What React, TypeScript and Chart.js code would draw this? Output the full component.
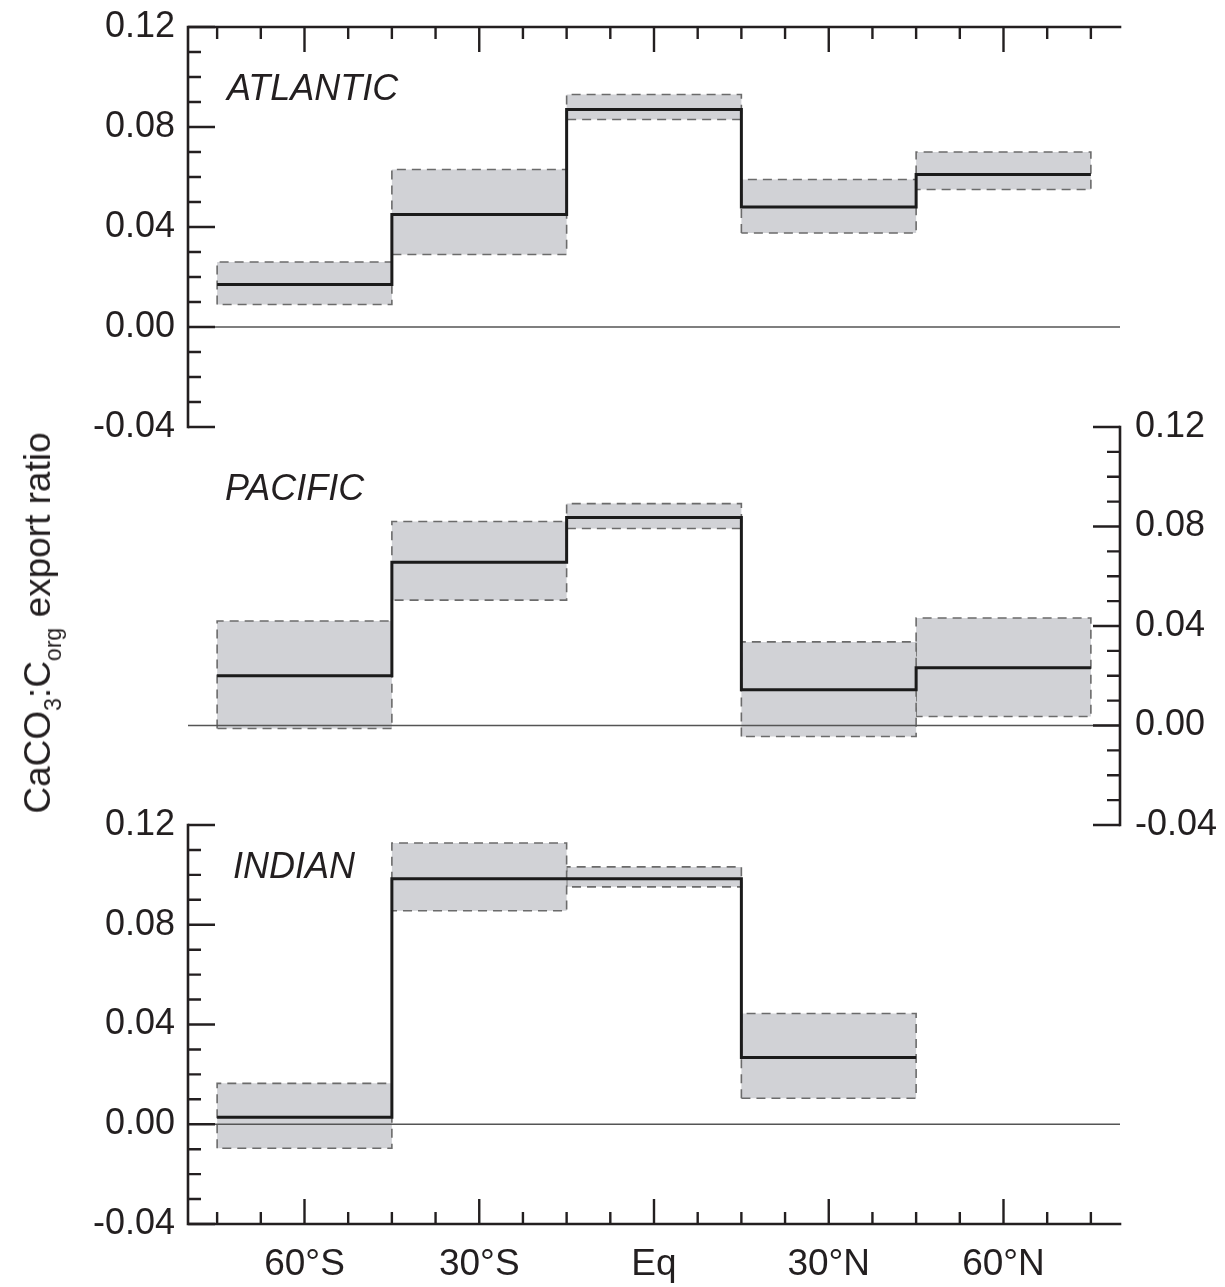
import React, { useEffect, useRef } from 'react';
import { Chart, registerables } from 'chart.js';

Chart.register(...registerables);

// ---------- data ----------
const BIN_EDGES = [-75, -45, -15, 15, 45, 75];
const X_TICK_VALUES = [-60, -30, 0, 30, 60];
const X_TICK_LABELS = ['60°S', '30°S', 'Eq', '30°N', '60°N'];
const Y_TICK_VALUES = [-0.04, 0, 0.04, 0.08, 0.12];
const X_MINOR_STEP = 7.5;
const X_MAJOR_STEP = 30;
const Y_MINOR_STEP = 0.01;
const Y_MAJOR_STEP = 0.04;
const X_MIN = -80;
const X_MAX = 80;
const Y_MIN = -0.04;
const Y_MAX = 0.12;

const PANEL_NAMES = ['ATLANTIC', 'PACIFIC', 'INDIAN'];

const ATL_MEAN = [0.017, 0.045, 0.087, 0.048, 0.061];
const ATL_LOW = [0.009, 0.029, 0.083, 0.0376, 0.055];
const ATL_HIGH = [0.026, 0.063, 0.093, 0.059, 0.07];

const PAC_MEAN = [0.02, 0.0656, 0.0836, 0.0144, 0.0232];
const PAC_LOW = [-0.0012, 0.0504, 0.0792, -0.0044, 0.0036];
const PAC_HIGH = [0.042, 0.082, 0.0892, 0.0336, 0.0432];

const IND_MEAN = [0.0028, 0.0984, 0.0984, 0.0268];
const IND_LOW = [-0.0096, 0.0856, 0.0952, 0.0104];
const IND_HIGH = [0.0164, 0.1128, 0.1032, 0.0444];

// ---------- style / layout ----------
const W = 1225;
const H = 1287;
const PLOT_LEFT = 188;
const PLOT_RIGHT = 1120;
const INK = '#231f20';
const FONT = '"Liberation Sans", Arial, Helvetica, sans-serif';
const BOX_FILL = '#d1d2d6';
const BOX_EDGE = '#6b6b6b';

type Panel = {
  name: string;
  mean: number[];
  low: number[];
  high: number[];
  top: number;
  bottom: number;
  yPos: 'left' | 'right';
  sides: string[];
  showX: boolean;
  labelDx: number;
  labelDy: number;
};

const PANELS: Panel[] = [
  { name: PANEL_NAMES[0], mean: ATL_MEAN, low: ATL_LOW, high: ATL_HIGH, top: 27, bottom: 427, yPos: 'left', sides: ['left', 'top'], showX: false, labelDx: 39, labelDy: 73 },
  { name: PANEL_NAMES[1], mean: PAC_MEAN, low: PAC_LOW, high: PAC_HIGH, top: 427, bottom: 825, yPos: 'right', sides: ['right'], showX: false, labelDx: 37, labelDy: 73 },
  { name: PANEL_NAMES[2], mean: IND_MEAN, low: IND_LOW, high: IND_HIGH, top: 825, bottom: 1224, yPos: 'left', sides: ['left', 'bottom'], showX: true, labelDx: 45, labelDy: 53 },
];

const isMultiple = (v: number, step: number) => Math.abs(v / step - Math.round(v / step)) < 1e-6;

const frameAxesPlugin = {
  id: 'frameAxes',
  afterDraw(chart: any, _args: any, opts: any) {
    const { ctx, chartArea: a, scales } = chart;
    const xs = scales.x;
    const ys = scales.y;
    const sides: string[] = opts.sides || [];
    ctx.save();
    ctx.strokeStyle = INK;
    ctx.lineWidth = 2.6;
    ctx.lineCap = 'square';
    ctx.beginPath();
    if (sides.includes('left')) { ctx.moveTo(a.left, a.top); ctx.lineTo(a.left, a.bottom); }
    if (sides.includes('right')) { ctx.moveTo(a.right, a.top); ctx.lineTo(a.right, a.bottom); }
    if (sides.includes('top')) { ctx.moveTo(a.left, a.top); ctx.lineTo(a.right, a.top); }
    if (sides.includes('bottom')) { ctx.moveTo(a.left, a.bottom); ctx.lineTo(a.right, a.bottom); }
    ctx.stroke();

    ctx.lineCap = 'butt';
    ctx.lineWidth = 2.4;
    ctx.beginPath();
    // y ticks
    const yStart = Math.ceil(ys.min / Y_MINOR_STEP - 1e-6);
    const yEnd = Math.floor(ys.max / Y_MINOR_STEP + 1e-6);
    for (let k = yStart; k <= yEnd; k++) {
      const v = k * Y_MINOR_STEP;
      const py = ys.getPixelForValue(v);
      const len = isMultiple(v, Y_MAJOR_STEP) ? 27 : 13;
      if (sides.includes('left')) { ctx.moveTo(a.left, py); ctx.lineTo(a.left + len, py); }
      if (sides.includes('right')) { ctx.moveTo(a.right, py); ctx.lineTo(a.right - len, py); }
    }
    // x ticks
    const xStart = Math.ceil(xs.min / X_MINOR_STEP - 1e-6);
    const xEnd = Math.floor(xs.max / X_MINOR_STEP + 1e-6);
    for (let k = xStart; k <= xEnd; k++) {
      const v = k * X_MINOR_STEP;
      const px = xs.getPixelForValue(v);
      const len = isMultiple(v, X_MAJOR_STEP) ? 25 : 12;
      if (sides.includes('top')) { ctx.moveTo(px, a.top); ctx.lineTo(px, a.top + len); }
      if (sides.includes('bottom')) { ctx.moveTo(px, a.bottom); ctx.lineTo(px, a.bottom - len); }
    }
    ctx.stroke();

    // panel name
    ctx.fillStyle = INK;
    ctx.font = `italic 36px ${FONT}`;
    ctx.textBaseline = 'alphabetic';
    ctx.textAlign = 'left';
    ctx.fillText(opts.name, a.left + opts.labelDx, a.top + opts.labelDy);
    ctx.restore();
  },
};

function buildDatasets(p: Panel) {
  const n = p.mean.length;
  const boxes = p.mean.map((_, i) => {
    const x0 = BIN_EDGES[i];
    const x1 = BIN_EDGES[i + 1];
    return {
      type: 'line',
      data: [
        { x: x0, y: p.low[i] },
        { x: x0, y: p.high[i] },
        { x: x1, y: p.high[i] },
        { x: x1, y: p.low[i] },
        { x: x0, y: p.low[i] },
      ],
      fill: 'shape',
      backgroundColor: BOX_FILL,
      borderColor: BOX_EDGE,
      borderWidth: 1.6,
      borderDash: [9, 6],
      pointRadius: 0,
      tension: 0,
      order: 2,
    };
  });
  const meanPts = BIN_EDGES.slice(0, n + 1).map((e, i) => ({ x: e, y: p.mean[Math.min(i, n - 1)] }));
  const mean = {
    type: 'line',
    data: meanPts,
    stepped: true,
    borderColor: '#1b1b1b',
    borderWidth: 3,
    pointRadius: 0,
    fill: false,
    order: 0,
  };
  const zero = {
    type: 'line',
    data: [{ x: X_MIN, y: 0 }, { x: X_MAX, y: 0 }],
    borderColor: '#555555',
    borderWidth: 1.3,
    pointRadius: 0,
    fill: false,
    order: 1,
  };
  return [mean, zero, ...boxes];
}

function PanelChart({ p }: { p: Panel }) {
  const ref = useRef<HTMLCanvasElement | null>(null);
  useEffect(() => {
    if (!ref.current) return;
    const yW = p.yPos === 'left' ? PLOT_LEFT : W - PLOT_RIGHT;
    const xH = p.showX ? 63 : 0;
    const padding = {
      left: p.yPos === 'left' ? 0 : PLOT_LEFT,
      right: p.yPos === 'right' ? 0 : W - PLOT_RIGHT,
      top: p.top,
      bottom: H - p.bottom - xH,
    };
    const chart = new Chart(ref.current, {
      type: 'line',
      data: { datasets: buildDatasets(p) as any },
      options: {
        responsive: false,
        animation: false,
        events: [],
        layout: { padding, autoPadding: false },
        plugins: {
          legend: { display: false },
          tooltip: { enabled: false },
          frameAxes: { sides: p.sides, name: p.name, labelDx: p.labelDx, labelDy: p.labelDy },
        } as any,
        scales: {
          x: {
            type: 'linear',
            min: X_MIN,
            max: X_MAX,
            position: 'bottom',
            display: p.showX,
            grid: { display: false, drawTicks: false },
            border: { display: false },
            afterBuildTicks: (s: any) => { s.ticks = X_TICK_VALUES.map((v) => ({ value: v })); },
            afterFit: (s: any) => {
              s.height = xH;
              s.paddingLeft = 0; s.paddingRight = 0; s.paddingTop = 0; s.paddingBottom = 0;
            },
            ticks: {
              autoSkip: false,
              maxRotation: 0,
              padding: 19,
              color: INK,
              font: { family: FONT, size: 37 },
              callback: (v: any) => {
                const i = X_TICK_VALUES.indexOf(Number(v));
                return i >= 0 ? X_TICK_LABELS[i] : '';
              },
            },
          },
          y: {
            type: 'linear',
            min: Y_MIN,
            max: Y_MAX,
            position: p.yPos,
            grid: { display: false, drawTicks: false },
            border: { display: false },
            afterBuildTicks: (s: any) => { s.ticks = Y_TICK_VALUES.map((v) => ({ value: v })); },
            afterFit: (s: any) => {
              s.width = yW;
              s.paddingLeft = 0; s.paddingRight = 0; s.paddingTop = 0; s.paddingBottom = 0;
            },
            ticks: {
              autoSkip: false,
              padding: p.yPos === 'left' ? 13 : 15,
              color: INK,
              font: { family: FONT, size: 36 },
              callback: (v: any) => Number(v).toFixed(2),
            },
          },
        } as any,
      },
      plugins: [frameAxesPlugin],
    } as any);
    return () => chart.destroy();
  }, [p]);
  return (
    <canvas
      ref={ref}
      width={W}
      height={H}
      style={{ position: 'absolute', left: 0, top: 0, width: W, height: H }}
    />
  );
}

export default function App() {
  useEffect(() => {
    document.body.style.margin = '0';
    document.body.style.overflow = 'hidden';
  }, []);
  const sub: React.CSSProperties = { fontSize: '23px', position: 'relative', top: '11px' };
  return (
    <div style={{ position: 'absolute', left: 0, top: 0, width: W, height: H, background: '#ffffff', overflow: 'hidden' }}>
      {PANELS.map((p) => (
        <PanelChart key={p.name} p={p} />
      ))}
      <div
        style={{
          position: 'absolute',
          left: 38,
          top: 623,
          transform: 'translate(-50%, -50%) rotate(-90deg)',
          whiteSpace: 'nowrap',
          font: `37px ${FONT}`,
          color: INK,
        }}
      >
        CaCO<span style={sub}>3</span>:C<span style={sub}>org</span> export ratio
      </div>
    </div>
  );
}
